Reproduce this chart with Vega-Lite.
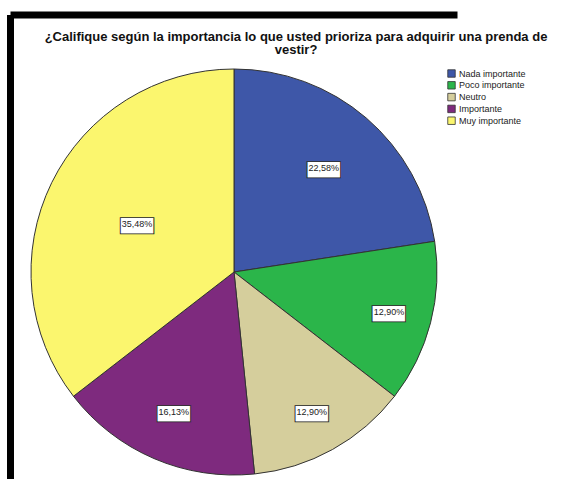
{
  "$schema": "https://vega.github.io/schema/vega-lite/v6.json",
  "autosize": "none",
  "width": 447,
  "height": 514,
  "padding": {"left": 10.5, "top": 15, "right": 126.5, "bottom": 0},
  "background": "white",
  "view": {"stroke": "black", "strokeWidth": 7, "fill": "white", "strokeDash": [447, 961, 514, 0]},
  "config": {
    "locale": {"number": {"decimal": ",", "thousands": ".", "grouping": [3], "currency": ["", " €"]}}
  },
  "title": {
    "text": ["¿Califique según la importancia lo que usted prioriza para adquirir una prenda de", "vestir?"],
    "font": "Liberation Sans",
    "fontSize": 13,
    "fontWeight": "bold",
    "color": "#111111",
    "anchor": "middle",
    "frame": "group",
    "dx": 62,
    "baseline": "top",
    "offset": -42,
    "lineHeight": 13,
    "limit": 1000
  },
  "data": {
    "values": [
      {"categoria": "Nada importante", "orden": 1, "porcentaje": 0.2258},
      {"categoria": "Poco importante", "orden": 2, "porcentaje": 0.1290},
      {"categoria": "Neutro", "orden": 3, "porcentaje": 0.1290},
      {"categoria": "Importante", "orden": 4, "porcentaje": 0.1613},
      {"categoria": "Muy importante", "orden": 5, "porcentaje": 0.3548}
    ]
  },
  "encoding": {
    "theta": {"field": "porcentaje", "type": "quantitative", "stack": true},
    "order": {"field": "orden", "type": "quantitative"}
  },
  "layer": [
    {
      "mark": {"type": "arc", "outerRadius": 203, "stroke": "#333333", "strokeWidth": 1},
      "encoding": {
        "color": {
          "field": "categoria",
          "type": "nominal",
          "scale": {
            "domain": ["Nada importante", "Poco importante", "Neutro", "Importante", "Muy importante"],
            "range": ["#3E57A8", "#2BB54A", "#D5CE9C", "#7E2A7E", "#FBF66E"]
          },
          "legend": {
            "orient": "none",
            "legendX": 436.5,
            "legendY": 54,
            "title": null,
            "symbolType": "square",
            "symbolSize": 56,
            "symbolStrokeColor": "#333333",
            "symbolStrokeWidth": 0.8,
            "labelFont": "Liberation Sans",
            "labelFontSize": 9,
            "labelColor": "#222222",
            "rowPadding": 0.8,
            "labelOffset": 3,
            "padding": 0
          }
        }
      }
    },
    {
      "mark": {"type": "text", "text": "▬", "font": "DejaVu Sans", "fontSize": 44, "fill": "white", "stroke": "#222222", "strokeWidth": 0.9, "baseline": "middle", "align": "center"},
      "encoding": {
        "radius": {"field": "porcentaje", "type": "quantitative", "scale": {"type": "linear", "domain": [0.129, 0.3548], "range": [160, 108], "zero": false}}
      }
    },
    {
      "mark": {"type": "text", "font": "Liberation Sans", "fontSize": 9, "fill": "#222222", "baseline": "middle", "align": "center"},
      "encoding": {
        "radius": {"field": "porcentaje", "type": "quantitative", "scale": {"type": "linear", "domain": [0.129, 0.3548], "range": [160, 108], "zero": false}},
        "text": {"field": "porcentaje", "type": "quantitative", "format": ".2%"}
      }
    }
  ]
}
